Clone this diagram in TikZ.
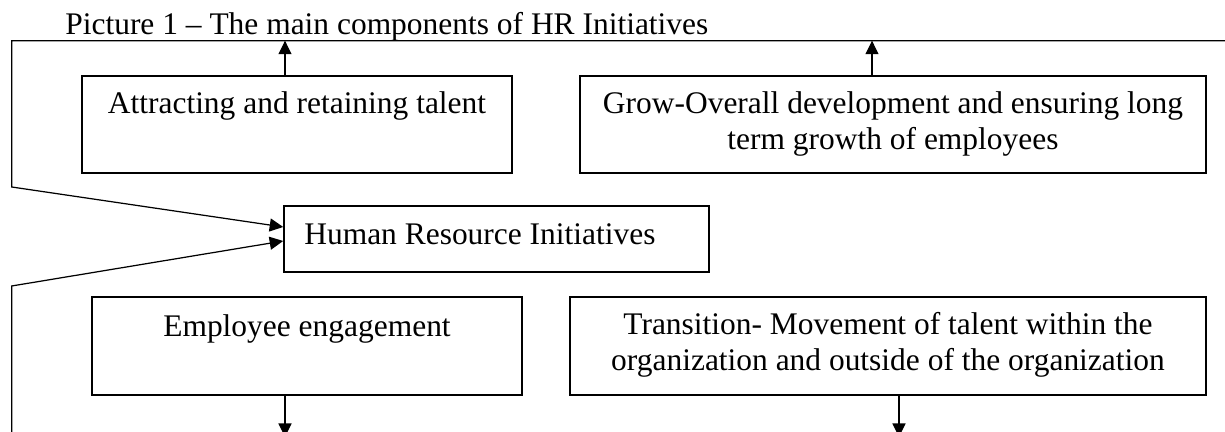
\documentclass[tikz,border=0pt]{standalone}
\usepackage{fontspec}
\setmainfont{Liberation Serif}
\usetikzlibrary{arrows.meta}

\begin{document}
\begin{tikzpicture}[
        box/.style={draw,line width=0.9pt,inner sep=0pt},
        txt/.style={inner sep=0pt,anchor=base,font=\fontsize{17.9}{21}\selectfont},
        arr/.style={line width=0.7pt,-{Triangle[length=0.27cm,width=0.26cm]}}]
    \useasboundingbox (0,0) rectangle (24.5,8.64);
    \node[txt,anchor=base west] (title) at (1.3,7.94) {Picture 1 – The main components of HR Initiatives};

    % boxes
    \node[box,minimum width=8.6cm,minimum height=1.94cm] (attract) at (5.94,6.15) {};
    \node[box,minimum width=12.52cm,minimum height=1.94cm] (grow) at (17.86,6.15) {};
    \node[box,minimum width=8.5cm,minimum height=1.32cm] (hri) at (9.93,3.86) {};
    \node[box,minimum width=8.6cm,minimum height=1.96cm] (engage) at (6.14,1.72) {};
    \node[box,minimum width=12.72cm,minimum height=1.96cm] (move) at (17.76,1.72) {};

    % texts (base of a two-line node is its last line)
    \node[txt] (attract-t) at (5.94,6.36) {Attracting and retaining talent};
    \node[txt,align=center] (grow-t) at (17.86,5.64) {Grow-Overall development and ensuring long\\term growth of employees};
    \node[txt,anchor=base west] (hri-t) at (6.08,3.74) {Human Resource Initiatives};
    \node[txt] (engage-t) at (6.14,1.90) {Employee engagement};
    \node[txt,align=center] (move-t) at (17.76,1.22) {Transition- Movement of talent within the\\organization and outside of the organization};

    % frame lines
    \coordinate (tl) at (0.234,7.826);
    \coordinate (tr) at (24.5,7.826);
    \coordinate (bl) at (0.234,0);
    \coordinate (kink1) at (0.234,4.9);
    \coordinate (kink2) at (0.234,2.92);
    \coordinate (up1) at (5.7,7.826);
    \coordinate (up2) at (17.44,7.826);
    \coordinate (down1) at (5.7,-0.1);
    \coordinate (down2) at (17.98,-0.1);

    \draw[arr] (tr) -- (tl) -- (kink1) -- ([yshift=0.24cm]hri.west);
    \draw[arr] (bl) -- (kink2) -- ([yshift=-0.04cm]hri.west);
    \draw[arr] (attract.north -| up1) -- (up1);
    \draw[arr] (grow.north -| up2) -- (up2);
    \draw[arr] (engage.south -| down1) -- (down1);
    \draw[arr] (move.south -| down2) -- (down2);
\end{tikzpicture}
\end{document}
